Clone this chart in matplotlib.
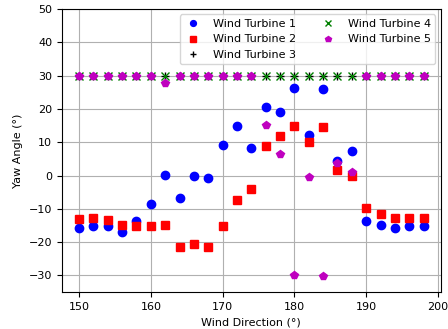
import matplotlib
matplotlib.use('Agg')
import matplotlib.pyplot as plt
import numpy as np

# wind directions (deg)
wind_dir = np.arange(150, 200, 2)

# yaw angles per turbine (deg)
wt1 = [-15.9, -15.1, -15.2, -17.0, -13.6, -8.5, 0.3, -6.8, 0.0, -0.6,
       9.2, 14.8, 8.4, 20.6, 19.2, 26.3, 12.1, 26.0, 4.5, 7.5,
       -13.6, -14.7, -15.6, -15.2, -15.2]
wt2 = [-13.1, -12.8, -13.3, -14.9, -15.1, -15.1, -14.9, -21.6, -20.6, -21.6,
       -15.1, -7.2, -3.9, 8.8, 12.0, 14.8, 10.1, 14.6, 1.7, -0.1,
       -9.6, -11.4, -12.6, -12.8, -12.8]
wt3 = [30.0] * 25
wt4 = [30.0] * 25
wt5 = [30.0, 30.0, 30.0, 30.0, 30.0, 30.0, 27.7, 30.0, 30.0, 30.0,
       30.0, 30.0, 30.0, 15.1, 6.5, -30.0, -0.4, -30.1, 3.9, 1.0,
       30.0, 30.0, 30.0, 30.0, 30.0]

fig = plt.figure(figsize=(4.48, 3.29), dpi=100)
ax = fig.add_axes([0.138, 0.112, 0.846, 0.861])

ax.plot(wind_dir, wt1, 'bo', label='Wind Turbine 1')
ax.plot(wind_dir, wt2, 'rs', label='Wind Turbine 2')
ax.plot(wind_dir, wt3, 'k+', label='Wind Turbine 3')
ax.plot(wind_dir, wt4, 'gx', label='Wind Turbine 4')
ax.plot(wind_dir, wt5, 'mp', label='Wind Turbine 5')

ax.set_ylim(-35, 50)
ax.set_xlabel('Wind Direction (°)', fontsize=8)
ax.set_ylabel('Yaw Angle (°)', fontsize=8)
ax.tick_params(labelsize=8)
ax.grid(True)
ax.legend(ncol=2, loc='upper right', fontsize=8, markerscale=0.7,
          handlelength=1.6, handletextpad=1.0)

fig.savefig('out.png', dpi=100)
